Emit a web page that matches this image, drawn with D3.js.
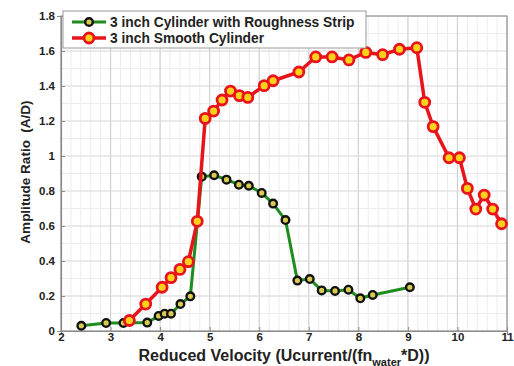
<!DOCTYPE html>
<html>
<head>
<meta charset="utf-8">
<script src="https://cdn.jsdelivr.net/npm/d3@7/dist/d3.min.js"></script>
<style>
  html, body { margin: 0; padding: 0; background: #fff; }
  svg { display: block; font-family: "Liberation Sans", Arial, sans-serif; }
</style>
</head>
<body>
<svg id="chart" width="514" height="366"></svg>
<script>
// ---- data ----
const roughX = [2.41, 2.91, 3.26, 3.74, 3.97, 4.09, 4.22, 4.41, 4.61, 4.84, 5.09, 5.34, 5.59, 5.79, 6.05, 6.28, 6.53, 6.77, 7.02, 7.26, 7.53, 7.80, 8.04, 8.29, 9.04];
const roughY = [0.030, 0.046, 0.046, 0.048, 0.086, 0.099, 0.099, 0.154, 0.198, 0.882, 0.890, 0.865, 0.836, 0.830, 0.789, 0.728, 0.634, 0.288, 0.297, 0.232, 0.229, 0.236, 0.187, 0.206, 0.250];
const smoothX = [3.38, 3.71, 4.04, 4.22, 4.40, 4.57, 4.75, 4.91, 5.08, 5.25, 5.42, 5.60, 5.77, 6.10, 6.28, 6.80, 7.14, 7.47, 7.81, 8.15, 8.49, 8.83, 9.18, 9.34, 9.51, 9.83, 10.04, 10.20, 10.37, 10.54, 10.71, 10.89];
const smoothY = [0.060, 0.154, 0.250, 0.305, 0.352, 0.396, 0.627, 1.215, 1.257, 1.320, 1.371, 1.345, 1.335, 1.402, 1.430, 1.480, 1.566, 1.566, 1.549, 1.592, 1.579, 1.610, 1.619, 1.307, 1.168, 0.990, 0.990, 0.815, 0.697, 0.777, 0.697, 0.613];
const xTicks = [2, 3, 4, 5, 6, 7, 8, 9, 10, 11];
const yTicks = [0, 0.2, 0.4, 0.6, 0.8, 1, 1.2, 1.4, 1.6, 1.8];
const seriesNames = ["3 inch Cylinder with Roughness Strip", "3 inch Smooth Cylinder"];
const yLabel = "Amplitude Ratio\u00a0\u00a0(A/D)";

// ---- layout ----
const svg = d3.select("#chart");
const L = 61, R = 507, T = 16, B = 331;
const x = d3.scaleLinear().domain([2, 11]).range([L, R]);
const y = d3.scaleLinear().domain([0, 1.8]).range([B, T]);

// minor grid
const xMinor = d3.range(2, 11.0001, 0.2);
const yMinor = d3.range(0, 1.8001, 0.1);
svg.append("g").selectAll("line").data(xMinor).join("line")
  .attr("x1", d => x(d)).attr("x2", d => x(d)).attr("y1", T).attr("y2", B)
  .attr("stroke", "#ececec").attr("stroke-width", 1);
svg.append("g").selectAll("line").data(yMinor).join("line")
  .attr("x1", L).attr("x2", R).attr("y1", d => y(d)).attr("y2", d => y(d))
  .attr("stroke", "#ececec").attr("stroke-width", 1);
// major grid
svg.append("g").selectAll("line").data(xTicks).join("line")
  .attr("x1", d => x(d)).attr("x2", d => x(d)).attr("y1", T).attr("y2", B)
  .attr("stroke", "#d2d2d2").attr("stroke-width", 1.2);
svg.append("g").selectAll("line").data(yTicks).join("line")
  .attr("x1", L).attr("x2", R).attr("y1", d => y(d)).attr("y2", d => y(d))
  .attr("stroke", "#dedede").attr("stroke-width", 1);

// box
svg.append("rect").attr("x", L).attr("y", T).attr("width", R - L).attr("height", B - T)
  .attr("fill", "none").attr("stroke", "#9a9a9a").attr("stroke-width", 1.2);

// axes
const fmt = d => d3.format("~g")(d);
const xAxis = svg.append("g").attr("transform", `translate(0,${B})`)
  .call(d3.axisBottom(x).tickValues(xTicks).tickFormat(fmt).tickSize(4));
const yAxis = svg.append("g").attr("transform", `translate(${L},0)`)
  .call(d3.axisLeft(y).tickValues(yTicks).tickFormat(fmt).tickSize(4));
[xAxis, yAxis].forEach(a => {
  a.select(".domain").attr("stroke", "#8a8a8a").attr("stroke-width", 1.2);
  a.selectAll(".tick line").attr("stroke", "#8a8a8a");
  a.selectAll("text").attr("font-family", "'Liberation Sans', Arial, sans-serif")
    .attr("font-size", 11.5).attr("font-weight", "bold").attr("fill", "#222");
});
xAxis.selectAll(".tick line").attr("y2", -4);
yAxis.selectAll(".tick line").attr("x2", 4);
xAxis.selectAll("text").attr("y", 2).attr("dy", "0.71em");
yAxis.selectAll("text").attr("x", -6);

// axis titles
const xt = svg.append("text").attr("x", 284).attr("y", 360.5).attr("text-anchor", "middle")
  .attr("font-size", 16).attr("font-weight", "bold").attr("fill", "#222");
xt.append("tspan").text("Reduced Velocity (Ucurrent/(fn");
xt.append("tspan").attr("font-size", 11).attr("dy", 5).text("water");
xt.append("tspan").attr("dy", -5).text("*D))");
svg.append("text").attr("transform", "translate(30,172) rotate(-90)")
  .attr("text-anchor", "middle").attr("font-size", 13.5).attr("font-weight", "bold")
  .attr("fill", "#222").text(yLabel);

// series
const rough = roughX.map((v, i) => [v, roughY[i]]);
const smooth = smoothX.map((v, i) => [v, smoothY[i]]);
const line = d3.line().x(d => x(d[0])).y(d => y(d[1]));

svg.append("path").datum(rough).attr("d", line).attr("fill", "none")
  .attr("stroke", "#1e8c1e").attr("stroke-width", 3).attr("stroke-linejoin", "round");
svg.append("g").selectAll("circle").data(rough).join("circle")
  .attr("cx", d => x(d[0])).attr("cy", d => y(d[1])).attr("r", 3.8)
  .attr("fill", "#d8cc50").attr("stroke", "#111").attr("stroke-width", 2.4);

svg.append("path").datum(smooth).attr("d", line).attr("fill", "none")
  .attr("stroke", "#e8141c").attr("stroke-width", 3.5).attr("stroke-linejoin", "round");
svg.append("g").selectAll("circle").data(smooth).join("circle")
  .attr("cx", d => x(d[0])).attr("cy", d => y(d[1])).attr("r", 5)
  .attr("fill", "#ffd21a").attr("stroke", "#e8141c").attr("stroke-width", 2.8);

// legend
const lg = svg.append("g");
lg.append("rect").attr("x", 63).attr("y", 11).attr("width", 303).attr("height", 37)
  .attr("fill", "#fff").attr("stroke", "#9a9a9a").attr("stroke-width", 1);
const legendStyles = [
  { line: "#1e8c1e", lw: 3, fill: "#d8cc50", stroke: "#111", r: 3.8, sw: 2.4 },
  { line: "#e8141c", lw: 3.5, fill: "#ffd21a", stroke: "#e8141c", r: 5, sw: 2.8 }
];
seriesNames.forEach((name, i) => {
  const cy = 22 + i * 16, s = legendStyles[i];
  lg.append("line").attr("x1", 72).attr("x2", 106).attr("y1", cy).attr("y2", cy)
    .attr("stroke", s.line).attr("stroke-width", s.lw);
  lg.append("circle").attr("cx", 89).attr("cy", cy).attr("r", s.r)
    .attr("fill", s.fill).attr("stroke", s.stroke).attr("stroke-width", s.sw);
  lg.append("text").attr("x", 110).attr("y", cy).attr("dy", "0.36em")
    .attr("font-size", 13.8).attr("font-weight", "bold").attr("fill", "#222").text(name);
});
</script>
</body>
</html>
